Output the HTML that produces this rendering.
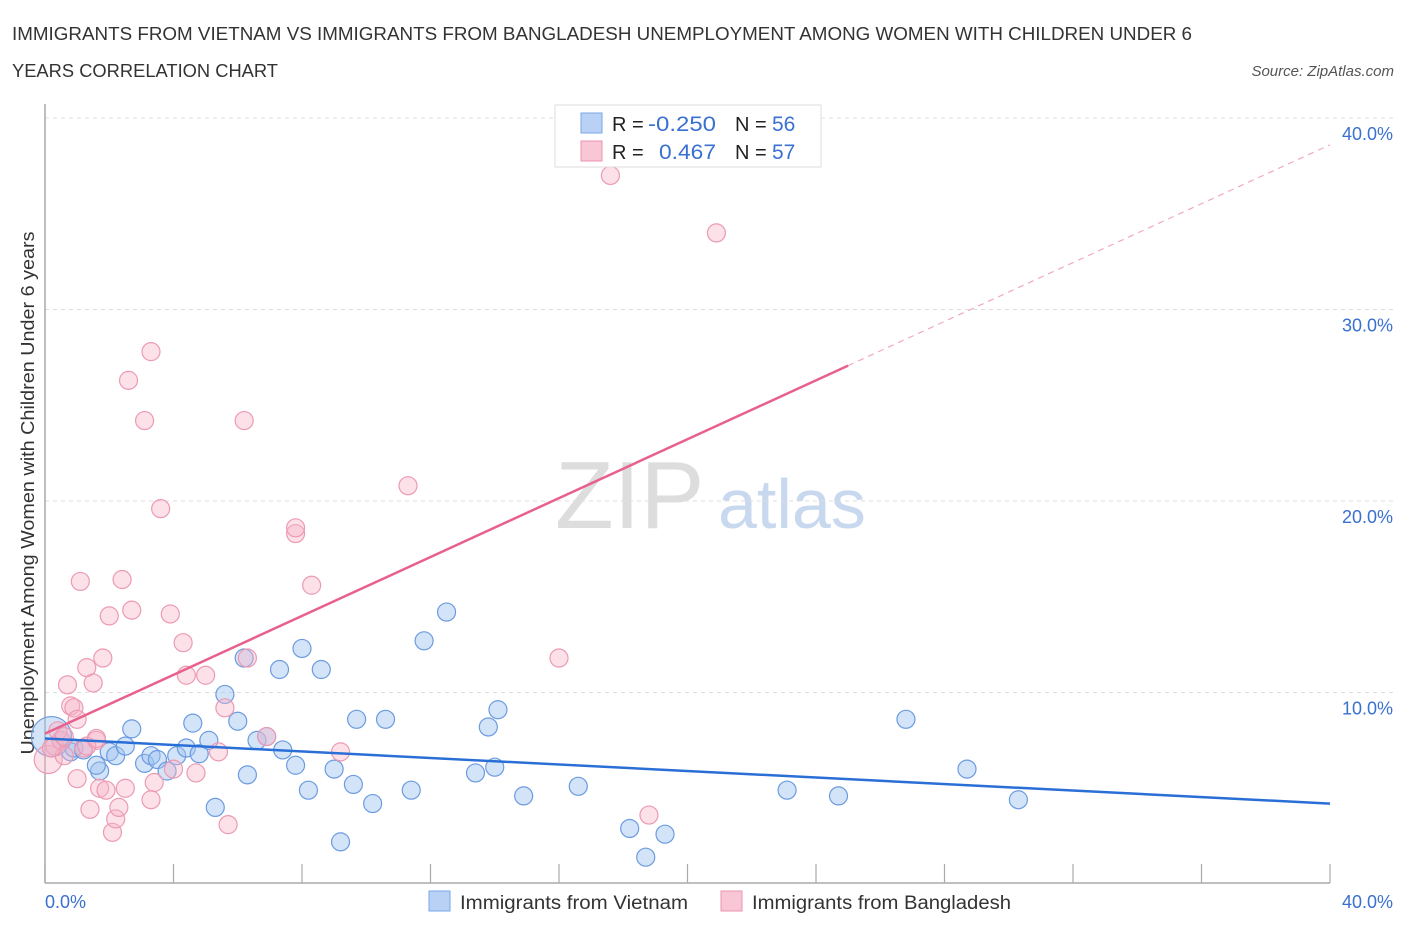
<!DOCTYPE html>
<html><head><meta charset="utf-8">
<style>
body{margin:0;background:#fff;font-family:"Liberation Sans",sans-serif;}
svg text{font-family:"Liberation Sans",sans-serif;}
</style></head>
<body>
<svg id="chart" width="1406" height="930" xmlns="http://www.w3.org/2000/svg">
<text x="12" y="40" font-size="18" fill="#333" textLength="1180" lengthAdjust="spacingAndGlyphs">IMMIGRANTS FROM VIETNAM VS IMMIGRANTS FROM BANGLADESH UNEMPLOYMENT AMONG WOMEN WITH CHILDREN UNDER 6</text>
<text x="12" y="77" font-size="18" fill="#333" textLength="266" lengthAdjust="spacingAndGlyphs">YEARS CORRELATION CHART</text>
<text x="1394" y="76" font-size="15" fill="#555" text-anchor="end" font-style="italic">Source: ZipAtlas.com</text>
<text x="555" y="528" font-size="96" fill="#ddd" font-family="Liberation Serif">ZIP</text>
<text x="718" y="528" font-size="70" fill="#c8d8ee">atlas</text>
<text transform="translate(34,493) rotate(-90)" font-size="18" fill="#333" text-anchor="middle" textLength="523" lengthAdjust="spacingAndGlyphs">Unemployment Among Women with Children Under 6 years</text>
<g id="grid"></g>
<g id="axes"></g>
<g id="pts"></g>
<g id="lines"></g>
<g>
<rect x="555" y="105" width="266" height="62" fill="#fff" stroke="#ddd"/>
<rect x="581" y="113" width="21" height="20" fill="#b8d1f5" stroke="#7aa6e6"/>
<rect x="581" y="141" width="21" height="20" fill="#f9c6d5" stroke="#eb94ae"/>
<text x="612" y="131" font-size="20" fill="#222">R =</text>
<text x="648" y="131" font-size="21" fill="#3a70d0" textLength="68" lengthAdjust="spacingAndGlyphs">-0.250</text>
<text x="735" y="131" font-size="20" fill="#222">N =</text>
<text x="772" y="131" font-size="21" fill="#3a70d0">56</text>
<text x="612" y="159" font-size="20" fill="#222">R =</text>
<text x="659" y="159" font-size="21" fill="#3a70d0" textLength="57" lengthAdjust="spacingAndGlyphs">0.467</text>
<text x="735" y="159" font-size="20" fill="#222">N =</text>
<text x="772" y="159" font-size="21" fill="#3a70d0">57</text>
</g>
<g>
<rect x="429" y="891" width="21" height="20" fill="#b8d1f5" stroke="#7aa6e6"/>
<text x="460" y="909" font-size="19" fill="#333" textLength="228" lengthAdjust="spacingAndGlyphs">Immigrants from Vietnam</text>
<rect x="721" y="891" width="21" height="20" fill="#f9c6d5" stroke="#eb94ae"/>
<text x="752" y="909" font-size="19" fill="#333" textLength="259" lengthAdjust="spacingAndGlyphs">Immigrants from Bangladesh</text>
</g>
</svg>
<script>
const blueX=[0.2,0.5,0.8,0.9,1.7,2.0,2.2,2.5,2.7,3.1,3.3,3.5,3.8,4.1,4.4,4.6,4.8,5.1,5.3,5.6,6.0,6.2,6.3,6.6,6.9,7.3,7.4,7.8,8.0,8.2,8.6,9.0,9.2,9.6,9.7,10.2,10.6,11.4,11.8,12.5,13.4,13.8,14.0,14.1,14.9,16.6,18.2,18.7,19.3,23.1,24.7,26.8,28.7,30.3,1.2,1.6];
const blueY=[7.7,7.5,6.9,7.1,5.9,6.9,6.7,7.2,8.1,6.3,6.7,6.5,5.9,6.7,7.1,8.4,6.8,7.5,4.0,9.9,8.5,11.8,5.7,7.5,7.7,11.2,7.0,6.2,12.3,4.9,11.2,6.0,2.2,5.2,8.6,4.2,8.6,4.9,12.7,14.2,5.8,8.2,6.1,9.1,4.6,5.1,2.9,1.4,2.6,4.9,4.6,8.6,6.0,4.4,7.0,6.2];
const blueR=[20,9,9,9,9,9,9,9,9,9,9,9,9,9,9,9,9,9,9,9,9,9,9,9,9,9,9,9,9,9,9,9,9,9,9,9,9,9,9,9,9,9,9,9,9,9,9,9,9,9,9,9,9,9,9,9];
const pinkX=[0.1,0.3,0.5,0.6,0.7,0.8,0.9,1.0,1.1,1.2,1.3,1.4,1.5,1.6,1.7,1.8,1.9,2.0,2.1,2.2,2.3,2.4,2.5,2.6,2.7,3.1,3.3,3.3,3.4,3.6,3.9,4.0,4.3,4.4,4.7,5.0,5.4,5.6,5.7,6.2,6.3,6.9,7.8,7.8,8.3,9.2,11.3,16.0,17.6,18.8,20.9,0.4,0.2,0.6,1.0,1.3,1.6];
const pinkY=[6.5,7.2,7.5,6.7,10.4,9.3,9.2,5.5,15.8,7.1,11.3,3.9,10.5,7.5,5.0,11.8,4.9,14.0,2.7,3.4,4.0,15.9,5.0,26.3,14.3,24.2,4.4,27.8,5.3,19.6,14.1,6.0,12.6,10.9,5.8,10.9,6.9,9.2,3.1,24.2,11.8,7.7,18.3,18.6,15.6,6.9,20.8,11.8,37.0,3.6,34.0,8.0,7.1,7.7,8.6,7.2,7.6];
const pinkR=[14,9,9,9,9,9,9,9,9,9,9,9,9,9,9,9,9,9,9,9,9,9,9,9,9,9,9,9,9,9,9,9,9,9,9,9,9,9,9,9,9,9,9,9,9,9,9,9,9,9,9,9,9,9,9,9,9];
const yTicks=[10,20,30,40];
const xTickVals=[0,4,8,12,16,20,24,28,32,36,40];
const blueFit=[7.6,4.2];
const pinkFit=[7.85,38.6];
const pinkSolidEnd=25;
const NS="http://www.w3.org/2000/svg";
const X0=45,X1=1330,Y0=884,Y40=118;
function sx(v){return X0+(X1-X0)*v/40;}
function sy(v){return Y0-(Y0-Y40)*v/40;}
function mk(tag,attrs,parent){const e=document.createElementNS(NS,tag);for(const k in attrs)e.setAttribute(k,attrs[k]);parent.appendChild(e);return e;}
const grid=document.getElementById('grid'),axes=document.getElementById('axes'),pts=document.getElementById('pts'),lines=document.getElementById('lines');
yTicks.forEach(t=>{
 const l=mk('line',{x1:X0,x2:1395,y1:sy(t),y2:sy(t),stroke:'#ddd','stroke-dasharray':'4,4'},grid);
 
 
 const tx=mk('text',{x:1393,y:sy(t)+22,'font-size':18,fill:'#3a70d0','text-anchor':'end'},grid);
 tx.textContent=t.toFixed(1)+'%';
 
 
});
const ya=mk('line',{x1:X0,x2:X0,y1:104,y2:883,stroke:'#aaa','stroke-width':1.5},axes);


const xa=mk('line',{x1:X0,x2:X1,y1:883,y2:883,stroke:'#aaa','stroke-width':1.5},axes);


xTickVals.forEach(t=>{
 const l=mk('line',{x1:sx(t),x2:sx(t),y1:864,y2:883,stroke:'#aaa','stroke-width':1.2},axes);
 
 
});
const xl0=mk('text',{x:45,y:908,'font-size':18,fill:'#3a70d0'},axes);xl0.textContent='0.0%';


const xl1=mk('text',{x:1393,y:908,'font-size':18,fill:'#3a70d0','text-anchor':'end'},axes);xl1.textContent='40.0%';


blueX.forEach((v,i)=>{
 const c=mk('circle',{cx:sx(v),cy:sy(blueY[i]),r:blueR[i],fill:'rgba(160,195,240,0.45)',stroke:'#6b9be0','stroke-width':1.2},pts);
 
 
});
pinkX.forEach((v,i)=>{
 const c=mk('circle',{cx:sx(v),cy:sy(pinkY[i]),r:pinkR[i],fill:'rgba(248,180,200,0.4)',stroke:'#ec9ab3','stroke-width':1.2},pts);
 
 
});
const bl=mk('line',{x1:sx(0),y1:sy(blueFit[0]),x2:sx(40),y2:sy(blueFit[1]),stroke:'#2a6fd6','stroke-width':2.5},lines);


const pAt=x=>pinkFit[0]+(pinkFit[1]-pinkFit[0])*x/40;
const pl=mk('line',{x1:sx(0),y1:sy(pAt(0)),x2:sx(pinkSolidEnd),y2:sy(pAt(pinkSolidEnd)),stroke:'#e8608c','stroke-width':2.5},lines);


const pd=mk('line',{x1:sx(pinkSolidEnd),y1:sy(pAt(pinkSolidEnd)),x2:sx(40),y2:sy(pAt(40)),stroke:'#f0a8bf','stroke-width':1.2,'stroke-dasharray':'6,5'},lines);


</script>
</body></html>
